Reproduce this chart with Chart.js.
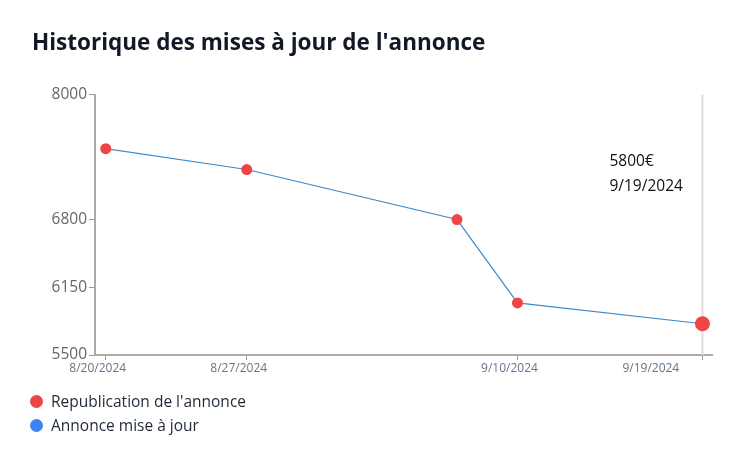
<!DOCTYPE html>
<html lang="fr">
<head>
<meta charset="utf-8">
<script src="https://cdn.jsdelivr.net/npm/chart.js@4.4.1/dist/chart.umd.min.js"></script>
<style>
  html, body { margin: 0; padding: 0; background: #ffffff; }
  #wrap { position: relative; width: 746px; height: 451px; overflow: hidden; font-family: "Open Sans", "Noto Sans", sans-serif; }
  #c { position: absolute; left: 0; top: 0; }
  #legend { position: absolute; left: 30px; top: 389px; margin: 0; padding: 0; list-style: none; }
  #legend li { display: flex; align-items: center; height: 24px; font-size: 15.5px; color: #1f2937; }
  #legend .dot { width: 13px; height: 13px; border-radius: 50%; margin-right: 8px; flex: none; }
</style>
</head>
<body>
<div id="wrap">
  <canvas id="c" width="746" height="451"></canvas>
  <ul id="legend"></ul>
</div>
<script>
// ---- data ----
const dates = ['8/20/2024', '8/27/2024', '9/6/2024', '9/10/2024', '9/19/2024'];
const dayOffsets = [0, 7.09, 17.66, 20.70, 30];   // days since 8/20/2024
const prices = [7480, 7280, 6800, 6000, 5800];
const seriesNames = ["Republication de l'annonce", 'Annonce mise à jour'];
const xTickIndices = [0, 1, 3, 4];
const yTicks = [5500, 6150, 6800, 8000];
const activeIndex = 4;

const FONT = '"Open Sans", "Noto Sans", sans-serif';

Chart.Tooltip.positioners.priceTag = function (elements) {
  if (!elements.length) return false;
  const el = elements[0].element;
  const area = this.chart.chartArea;
  return { x: el.x - 93, y: area.top + 58, xAlign: 'left', yAlign: 'top' };
};

const hoverLine = {
  id: 'hoverLine',
  beforeDatasetsDraw(chart) {
    const act = chart.getActiveElements();
    if (!act.length) return;
    const x = act[0].element.x;
    const { top, bottom } = chart.chartArea;
    const ctx = chart.ctx;
    ctx.save();
    ctx.strokeStyle = '#dddddd';
    ctx.lineWidth = 2;
    ctx.beginPath();
    ctx.moveTo(x, top);
    ctx.lineTo(x, bottom);
    ctx.stroke();
    ctx.restore();
  }
};

const chart = new Chart(document.getElementById('c'), {
  type: 'line',
  data: {
    datasets: [
      {
        label: seriesNames[0],
        data: dayOffsets.map((d, i) => ({ x: d, y: prices[i] })),
        borderColor: '#3d8bcd',
        borderWidth: 1.2,
        backgroundColor: '#ef4444',
        pointBackgroundColor: '#ef4444',
        pointBorderWidth: 0,
        pointRadius: 5.5,
        pointHoverRadius: 7.5,
        pointHoverBorderWidth: 0,
        pointHoverBackgroundColor: '#ef4444',
        tension: 0
      },
      {
        label: seriesNames[1],
        data: [],
        borderColor: '#3b82f6',
        backgroundColor: '#3b82f6',
        pointBackgroundColor: '#3b82f6'
      }
    ]
  },
  options: {
    responsive: false,
    animation: false,
    events: [],
    layout: { padding: { left: 32, right: 34, top: 0, bottom: 76 } },
    scales: {
      x: {
        type: 'linear',
        min: -0.54,
        max: 30.48,
        afterBuildTicks: s => { s.ticks = xTickIndices.map(i => ({ value: dayOffsets[i] })); },
        afterFit: s => { s.height = 20; s.paddingLeft = 0; s.paddingRight = 0; },
        border: { color: '#aaaaaa', width: 2 },
        grid: { drawOnChartArea: false, tickLength: 5, color: '#999999' },
        ticks: {
          autoSkip: false,
          maxRotation: 0,
          labelOffset: -8,
          padding: 1,
          color: '#64748b',
          font: { family: FONT, size: 12 },
          callback: (v, i) => {
            const label = dates[xTickIndices[i]];
            return i === xTickIndices.length - 1 ? label + ' '.repeat(28) : label;
          }
        }
      },
      y: {
        min: 5500,
        max: 8000,
        afterBuildTicks: s => { s.ticks = yTicks.map(v => ({ value: v })); },
        afterFit: s => { s.width = 63; },
        border: { color: '#aaaaaa', width: 2 },
        grid: { drawOnChartArea: false, tickLength: 6, color: '#999999' },
        ticks: {
          padding: 2,
          color: '#666666',
          font: { family: FONT, size: 15.5 },
          callback: v => String(v)
        }
      }
    },
    plugins: {
      legend: { display: false },
      title: {
        display: true,
        text: "Historique des mises à jour de l'annonce",
        align: 'start',
        color: '#111827',
        font: { family: FONT, size: 22.5, weight: 'bold' },
        padding: { top: 30.5, bottom: 37 }
      },
      tooltip: {
        enabled: true,
        position: 'priceTag',
        xAlign: 'left',
        yAlign: 'top',
        backgroundColor: 'rgba(0,0,0,0)',
        displayColors: false,
        padding: 0,
        caretSize: 0,
        caretPadding: 0,
        cornerRadius: 0,
        bodyColor: '#111111',
        bodyFont: { family: FONT, size: 15.5 },
        bodySpacing: 6.4,
        callbacks: {
          title: () => [],
          label: ctx => [prices[ctx.dataIndex] + '€', dates[ctx.dataIndex]]
        }
      }
    }
  },
  plugins: [hoverLine]
});

const active = [{ datasetIndex: 0, index: activeIndex }];
chart.setActiveElements(active);
chart.tooltip.setActiveElements(active, { x: 0, y: 0 });
chart.update();

// HTML legend built from the chart's datasets
const ul = document.getElementById('legend');
chart.data.datasets.forEach(ds => {
  const li = document.createElement('li');
  const dot = document.createElement('span');
  dot.className = 'dot';
  dot.style.background = ds.backgroundColor;
  li.appendChild(dot);
  li.appendChild(document.createTextNode(ds.label));
  ul.appendChild(li);
});
</script>
</body>
</html>
